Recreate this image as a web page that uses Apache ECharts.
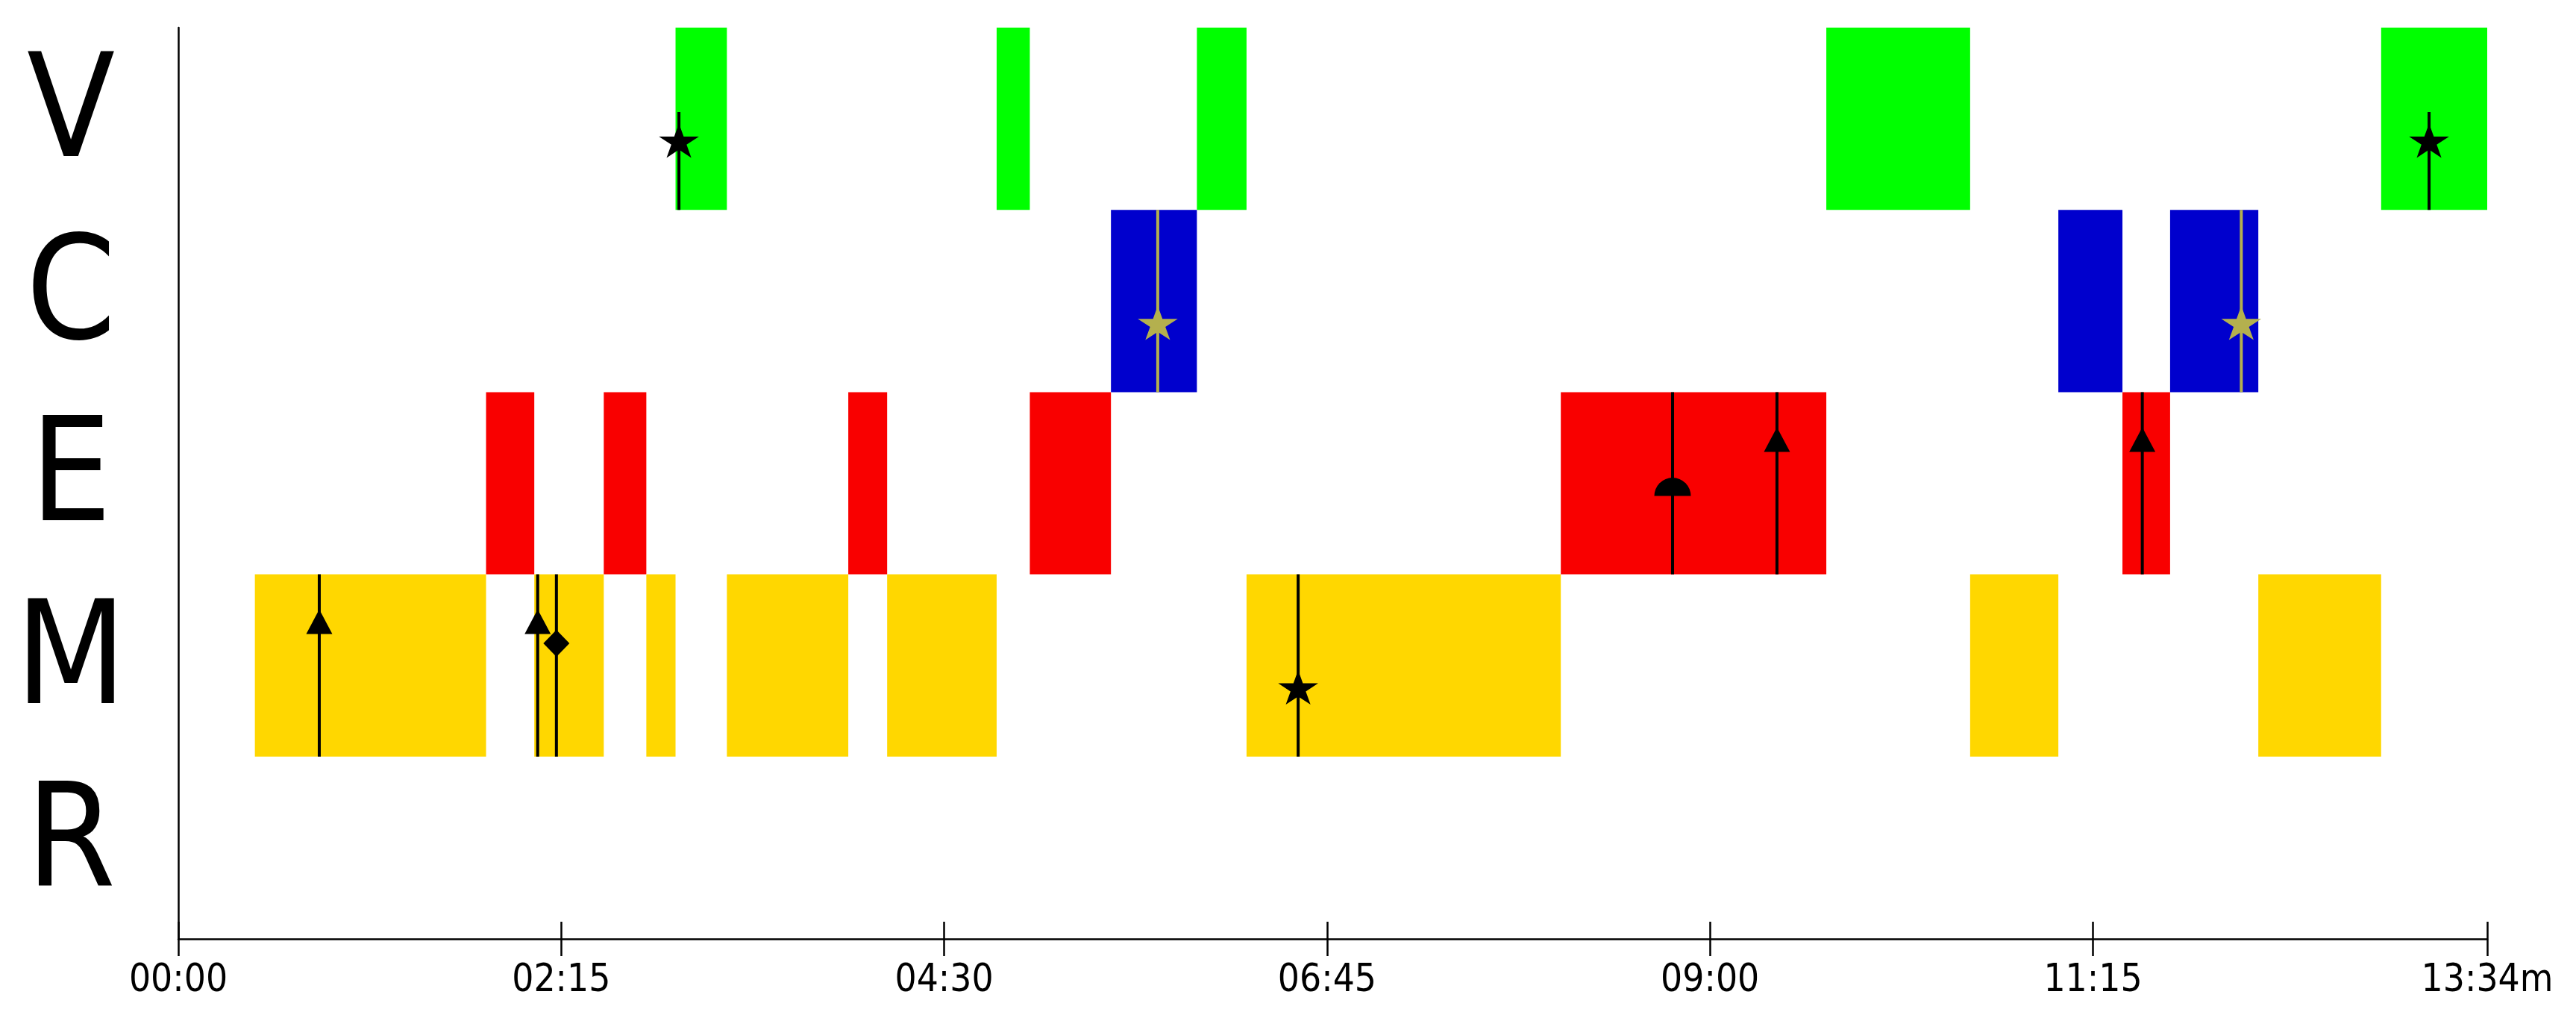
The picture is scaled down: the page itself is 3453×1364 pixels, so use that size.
<!DOCTYPE html>
<html>
<head>
<meta charset="utf-8">
<script src="https://cdn.jsdelivr.net/npm/echarts@6/dist/echarts.min.js"></script>
<style>
    html, body { margin: 0; padding: 0; background: #fff; }
    #chart { width: 3453px; height: 1364px; }
</style>
</head>
<body>
<div id="chart"></div>
<script>
// rows, top to bottom
const categories = ["V", "C", "E", "M", "R"];
const categoryColors = { V: "#00ff00", C: "#0000cd", E: "#f90000", M: "#ffd700", R: "#999999" };

// state segments (seconds)
const segStart = [27, 108.5, 125.5, 150, 165, 175.3, 193.4, 236.2, 249.9, 288.5, 300.2, 328.8, 359.1, 376.6, 487.4, 581, 631.7, 662.8, 685.4, 702.2, 733.3, 776.6];
const segEnd   = [108.5, 125.5, 150, 165, 175.3, 193.4, 236.2, 249.9, 288.5, 300.2, 328.8, 359.1, 376.6, 487.4, 581, 631.7, 662.8, 685.4, 702.2, 733.3, 776.6, 814];
const segCat   = ["M", "E", "M", "E", "M", "V", "M", "E", "M", "V", "E", "C", "V", "M", "E", "V", "M", "C", "E", "C", "M", "V"];

// events drawn as a vertical line with a symbol
const markerTime  = [176.5, 793.5, 345.3, 727.3, 526.8, 563.6, 692.4, 49.7, 126.7, 133.3, 394.8];
const markerCat   = ["V", "V", "C", "C", "E", "E", "E", "M", "M", "M", "M"];
const markerShape = ["star", "star", "star", "star", "dome", "triangle", "triangle", "triangle", "triangle", "diamond", "star"];
const markerColor = ["#000000", "#000000", "#b4b04e", "#b4b04e", "#000000", "#000000", "#000000", "#000000", "#000000", "#000000", "#000000"];

// x axis
const axisMax = 814;
const tickValues = [0, 135, 270, 405, 540, 675, 814];

const FONT = '"DejaVu Sans Condensed", "DejaVu Sans", sans-serif';

function fmtTime(v) {
    const m = Math.floor(v / 60);
    const s = Math.round(v - m * 60);
    const txt = String(m).padStart(2, "0") + ":" + String(s).padStart(2, "0");
    return v === axisMax ? txt + "m" : txt;
}

// symbol placement inside a row (fraction of row height from row top)
const shapeOffset = { star: 0.63, triangle: 0.26, diamond: 0.378, dome: 0.57 };

function starPoints(cx, cy, rx, ry) {
    const pts = [];
    for (let i = 0; i < 10; i++) {
        const a = -Math.PI / 2 + i * Math.PI / 5;
        const k = i % 2 === 0 ? 1 : 0.382;
        pts.push([cx + Math.cos(a) * rx * k, cy + Math.sin(a) * ry * k]);
    }
    return pts;
}

function buildSymbol(shape, x, top, h, color) {
    const cy = top + h * shapeOffset[shape];
    if (shape === "star") {
        return { type: "polygon", shape: { points: starPoints(x, cy, 28.2, 25.4) }, style: { fill: color } };
    }
    if (shape === "triangle") {
        return { type: "polygon", shape: { points: [[x, cy - 16.5], [x + 17.5, cy + 16.5], [x - 17.5, cy + 16.5]] }, style: { fill: color } };
    }
    if (shape === "diamond") {
        return { type: "polygon", shape: { points: [[x, cy - 18], [x + 17.5, cy], [x, cy + 18], [x - 17.5, cy]] }, style: { fill: color } };
    }
    // dome: upper half circle sitting on cy
    return { type: "sector", shape: { cx: x, cy: cy, r0: 0, r: 24.5, startAngle: Math.PI, endAngle: Math.PI * 2 }, style: { fill: color } };
}

const segData = segStart.map((s, i) => [s, segEnd[i], categories.indexOf(segCat[i])]);
const markerData = markerTime.map((t, i) => [t, categories.indexOf(markerCat[i]), i]);

const chart = echarts.init(document.getElementById("chart"), null, { renderer: "canvas" });

chart.setOption({
    backgroundColor: "#ffffff",
    animation: false,
    grid: { left: 239, right: 119, top: 37, bottom: 106, containLabel: false, outerBoundsMode: "none" },
    xAxis: [
        {
            type: "value",
            min: 0,
            max: axisMax,
            position: "bottom",
            axisLine: { show: true, lineStyle: { color: "#000", width: 2.5 } },
            axisTick: { show: true, inside: false, length: 23, lineStyle: { color: "#000", width: 2.5 }, customValues: tickValues },
            axisLabel: {
                show: true, customValues: tickValues, formatter: fmtTime,
                color: "#000", fontFamily: FONT, fontSize: 51, lineHeight: 51, margin: 31
            },
            splitLine: { show: false }
        },
        {
            type: "value",
            min: 0,
            max: axisMax,
            position: "bottom",
            axisLine: { show: false },
            axisTick: { show: true, inside: true, length: 23, lineStyle: { color: "#000", width: 2.5 }, customValues: tickValues },
            axisLabel: { show: false },
            splitLine: { show: false }
        }
    ],
    yAxis: {
        type: "category",
        data: categories,
        inverse: true,
        boundaryGap: true,
        axisLine: { show: true, lineStyle: { color: "#000", width: 2.5 } },
        axisTick: { show: false },
        splitLine: { show: false },
        axisLabel: {
            interval: 0, hideOverlap: false,
            color: "#000", fontFamily: FONT, fontSize: 192, lineHeight: 192,
            align: "center", margin: 144, padding: [0, 0, 16, 0]
        }
    },
    series: [
        {
            type: "custom",
            xAxisIndex: 0,
            data: segData,
            renderItem: function (params, api) {
                const a = api.coord([api.value(0), api.value(2)]);
                const b = api.coord([api.value(1), api.value(2)]);
                const h = api.size([0, 1])[1];
                return {
                    type: "rect",
                    shape: { x: a[0], y: a[1] - h / 2, width: b[0] - a[0], height: h },
                    style: { fill: categoryColors[categories[api.value(2)]] }
                };
            }
        },
        {
            type: "custom",
            xAxisIndex: 0,
            data: markerData,
            z: 5,
            renderItem: function (params, api) {
                const idx = api.value(2);
                const p = api.coord([api.value(0), api.value(1)]);
                const h = api.size([0, 1])[1];
                const top = p[1] - h / 2;
                const color = markerColor[idx];
                // the V row events start their line part way down the row
                const lineTop = markerCat[idx] === "V" ? top + h * 0.463 : top;
                return {
                    type: "group",
                    children: [
                        { type: "line", shape: { x1: p[0], y1: lineTop, x2: p[0], y2: top + h }, style: { stroke: color, lineWidth: 4 } },
                        buildSymbol(markerShape[idx], p[0], top, h, color)
                    ]
                };
            }
        }
    ]
});
</script>
</body>
</html>
